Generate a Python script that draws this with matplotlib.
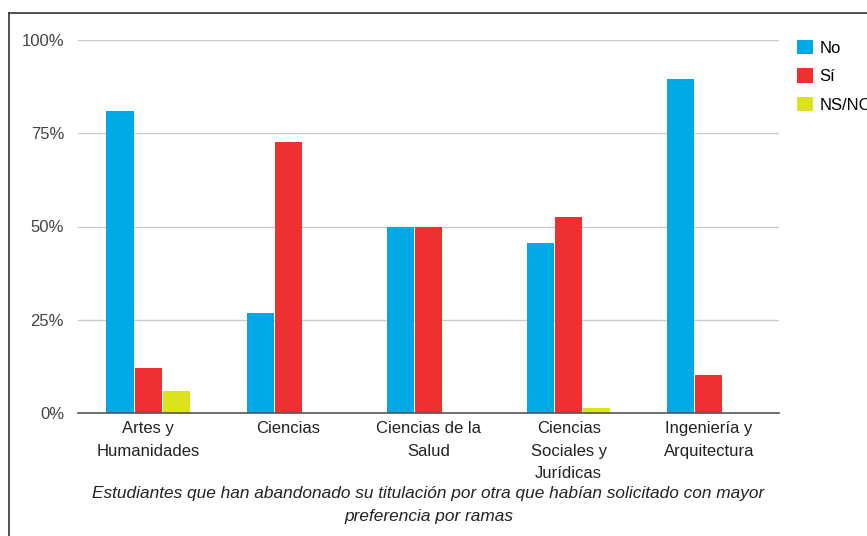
import matplotlib
matplotlib.use("Agg")
import matplotlib.pyplot as plt
from matplotlib.lines import Line2D
import numpy as np

plt.rcParams['font.family'] = ['Liberation Sans', 'DejaVu Sans']

categories = ["Artes y\nHumanidades", "Ciencias", "Ciencias de la\nSalud",
              "Ciencias\nSociales y\nJurídicas", "Ingeniería y\nArquitectura"]
series_names = ["No", "Sí", "NS/NC"]
no_vals = [81.0, 26.8, 49.9, 45.6, 89.5]
si_vals = [12.1, 72.7, 49.9, 52.5, 10.2]
nsnc_vals = [5.9, 0.0, 0.0, 1.3, 0.0]
colors = ["#00a8e6", "#ef3030", "#dde31d"]
yticks = [0, 25, 50, 75, 100]
ytick_labels = ["0%", "25%", "50%", "75%", "100%"]
caption = ("Estudiantes que han abandonado su titulación por otra que habían solicitado con mayor\n"
           "preferencia por ramas")

W, H = 867, 536
FS = 12
fig = plt.figure(figsize=(W / 100, H / 100), dpi=100)
ax = fig.add_axes([78 / W, 1 - 413 / H, (779 - 78) / W, (413 - 40) / H])

x = np.arange(len(categories))
bw = 0.2
for i, (vals, c, name) in enumerate(zip([no_vals, si_vals, nsnc_vals], colors, series_names)):
    ax.bar(x + (i - 1) * bw, vals, width=bw - 0.006, color=c, label=name, zorder=3)

ax.set_xlim(-0.5, len(categories) - 0.5)
ax.set_ylim(0, 100)
ax.set_yticks(yticks)
ax.set_yticklabels(ytick_labels, fontsize=FS, color="#444444")
ax.set_xticks(x)
ax.set_xticklabels(categories, fontsize=FS, color="#222222", linespacing=1.6)
ax.tick_params(axis='y', length=0, pad=10)
ax.tick_params(axis='x', length=0, pad=6)
for t in [25, 50, 75, 100]:
    ax.axhline(t, color="#cccccc", lw=1, zorder=1)
for s in ["top", "right", "left"]:
    ax.spines[s].set_visible(False)
ax.spines["bottom"].set_color("#555555")
ax.spines["bottom"].set_linewidth(1.2)
ax.spines["bottom"].set_zorder(4)

leg = fig.legend(loc="upper left", bbox_to_anchor=(797 / W, 1 - 40 / H), frameon=False,
                 fontsize=FS, handlelength=0.95, handleheight=0.95, labelspacing=0.75,
                 handletextpad=0.4, borderaxespad=0, borderpad=0)

fig.text((78 + 779) / 2 / W, 1 - 505 / H, caption, ha="center", va="center",
         fontsize=12.4, style="italic", color="#222222", linespacing=1.6)

fig.add_artist(Line2D([9 / W, 9 / W], [0, 1 - 13 / H], color="#333333", lw=1.2,
                      transform=fig.transFigure))
fig.add_artist(Line2D([9 / W, 1], [1 - 13 / H, 1 - 13 / H], color="#333333", lw=1.2,
                      transform=fig.transFigure))

fig.savefig("out.png", dpi=100)
